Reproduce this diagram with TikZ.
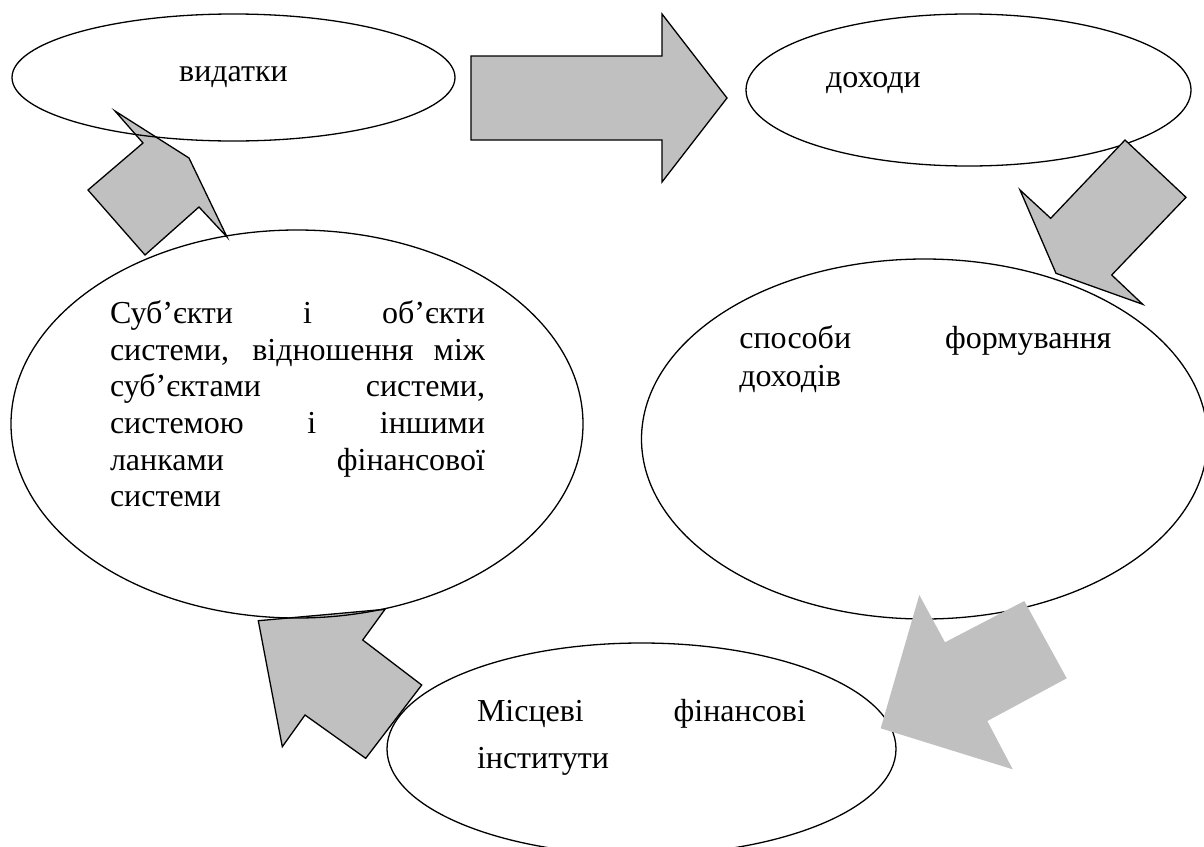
\documentclass[tikz,border=0pt]{standalone}
\usepackage{fontspec}
\setmainfont{Liberation Serif}
\newfontfamily\timesfont{Liberation Serif}
\usetikzlibrary{shapes.geometric}
\definecolor{arrowgrey}{RGB}{192,192,192}
\tikzset{
  ell/.style={ellipse, draw=black, line width=1.3pt, inner sep=0pt, outer sep=0pt},
  blockarrow/.style={fill=arrowgrey, draw=black, line width=1.3pt, line join=miter},
  blockarrowplain/.style={fill=arrowgrey},
  txt/.style={font=\timesfont\fontsize{32}{38}\selectfont, inner sep=0pt, outer sep=0pt, anchor=base west},
}
\begin{document}
\begin{tikzpicture}[x=1pt,y=-1pt]
\useasboundingbox (0,0) rectangle (1204,846);
\clip (0,0) rectangle (1204,846);
\fill[white] (0,0) rectangle (1204,846);

% arrows lying under ellipse outlines
\draw[blockarrow] (115,111) -- (189,158) -- (227,237) -- (199,207) -- (145,255) -- (88,190) -- (143,143) -- cycle;
\draw[blockarrow] (258.3,620.7) -- (385,609.3) -- (362.7,640) -- (421.7,685) -- (365.7,758.3) -- (305,715) -- (282.3,746.7) -- cycle;

% ellipses
\node[ell, minimum width=443pt, minimum height=127pt] (e1) at (233.5,77.5) {};
\node[ell, minimum width=445pt, minimum height=152pt] (e2) at (968.5,90) {};
\node[ell, minimum width=566pt, minimum height=360pt] (e3) at (924.5,439) {};
\node[ell, minimum width=572pt, minimum height=388pt] (e4) at (297,424) {};
\node[ell, minimum width=509pt, minimum height=212pt] (e5) at (641.5,749) {};

% arrows lying over ellipse outlines
\draw[blockarrow] (471,56) -- (662,56) -- (662,14) -- (727,98) -- (662,182) -- (662,140) -- (471,140) -- cycle;
\draw[blockarrow] (1125,140) -- (1186,197.3) -- (1111.7,275) -- (1142.7,304.3) -- (1056,273.3) -- (1020,190) -- (1050.7,218.3) -- cycle;
\fill[blockarrowplain] (880.7,728.3) -- (919.3,595) -- (945,642.3) -- (1024.3,601) -- (1066.7,678.3) -- (987.3,721) -- (1012.7,769.3) -- cycle;

% texts
\node[txt, anchor=base] (t1) at (233.5,81) {видатки};
\node[txt] (t2) at (826,87) {доходи};

\node[txt] (t3a) at (739.4,348.3) {\makebox[372pt][s]{способи формування}};
\node[txt] (t3b) at (739.4,386.7) {доходів};

\node[txt] (t4a) at (110,323.3) {\makebox[375pt][s]{Суб’єкти і об’єкти}};
\node[txt] (t4b) at (110,360) {\makebox[375pt][s]{системи, відношення між}};
\node[txt] (t4c) at (110,396.7) {\makebox[375pt][s]{суб’єктами системи,}};
\node[txt] (t4d) at (110,433.3) {\makebox[375pt][s]{системою і іншими}};
\node[txt] (t4e) at (110,470) {\makebox[375pt][s]{ланками фінансової}};
\node[txt] (t4f) at (110,506.7) {системи};

\node[txt] (t5a) at (477,721.7) {\makebox[329pt][s]{Місцеві фінансові}};
\node[txt] (t5b) at (477,768.3) {інститути};
\end{tikzpicture}
\end{document}
